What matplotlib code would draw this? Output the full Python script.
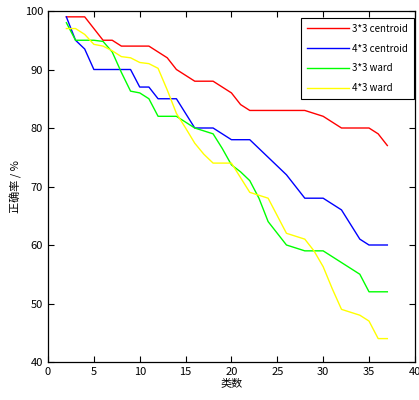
import numpy as np
import matplotlib
matplotlib.use("Agg")
import matplotlib.pyplot as plt

plt.rcParams['font.family'] = ['Noto Sans CJK SC', 'DejaVu Sans']

# ---- data ----
k = np.arange(2, 38)

centroid_33 = [99, 99, 99, 97, 95, 95, 94, 94, 94, 94, 93, 92, 90, 89, 88, 88, 88, 87,
               86, 84, 83, 83, 83, 83, 83, 83, 83, 82.5, 82, 81, 80, 80, 80, 80, 79, 77]
centroid_43 = [99, 95, 93.5, 90, 90, 90, 90, 90, 87, 87, 85, 85, 85, 82.5, 80, 80, 80, 79,
               78, 78, 78, 76.5, 75, 73.5, 72, 70, 68, 68, 68, 67, 66, 63.5, 61, 60, 60, 60]
ward_33 = [98, 95, 95, 95, 94.8, 93, 89.5, 86.3, 86, 85, 82, 82, 82, 81, 80, 79.5, 79, 76.5,
           73.7, 72.5, 71, 68, 64, 62, 60, 59.5, 59, 59, 59, 58, 57, 56, 55, 52, 52, 52]
ward_43 = [97, 97, 96, 94.3, 94, 93.2, 92.2, 92, 91.2, 91, 90.2, 86.5, 82.5, 80, 77.4, 75.5,
           74, 74, 74, 71.5, 69, 68.5, 68, 65, 62, 61.5, 61, 59, 56.3, 52.5, 49, 48.5, 48,
           47, 44, 44]

labels = ['3*3 centroid', '4*3 centroid', '3*3 ward', '4*3 ward']
colors = ['#ff0000', '#0000ff', '#00ff00', '#ffff00']

# ---- figure ----
fig = plt.figure(figsize=(4.19, 4.0), dpi=100)
ax = fig.add_axes([0.1146, 0.095, 0.8755, 0.8775])

for y, lab, c in zip([centroid_33, centroid_43, ward_33, ward_43], labels, colors):
    ax.plot(k, y, color=c, lw=1.0, label=lab)

ax.set_xlim(0, 40)
ax.set_ylim(40, 100)
ax.set_xticks(range(0, 41, 5))
ax.set_yticks(range(40, 101, 10))
ax.tick_params(direction='in', top=True, right=True, labelsize=8, length=4, width=0.8)
for s in ax.spines.values():
    s.set_linewidth(0.9)

ax.set_xlabel('类数', fontsize=8, labelpad=1)
ax.set_ylabel('正确率 / %', fontsize=8, labelpad=2)

leg = ax.legend(loc='upper right', bbox_to_anchor=(0.998, 0.98), fontsize=7,
                frameon=True, fancybox=False, framealpha=1, edgecolor='black',
                handlelength=4.4, borderpad=0.6, labelspacing=1.0, handletextpad=0.3,
                borderaxespad=0)
leg.get_frame().set_linewidth(0.8)

fig.savefig('out.png', dpi=100)
